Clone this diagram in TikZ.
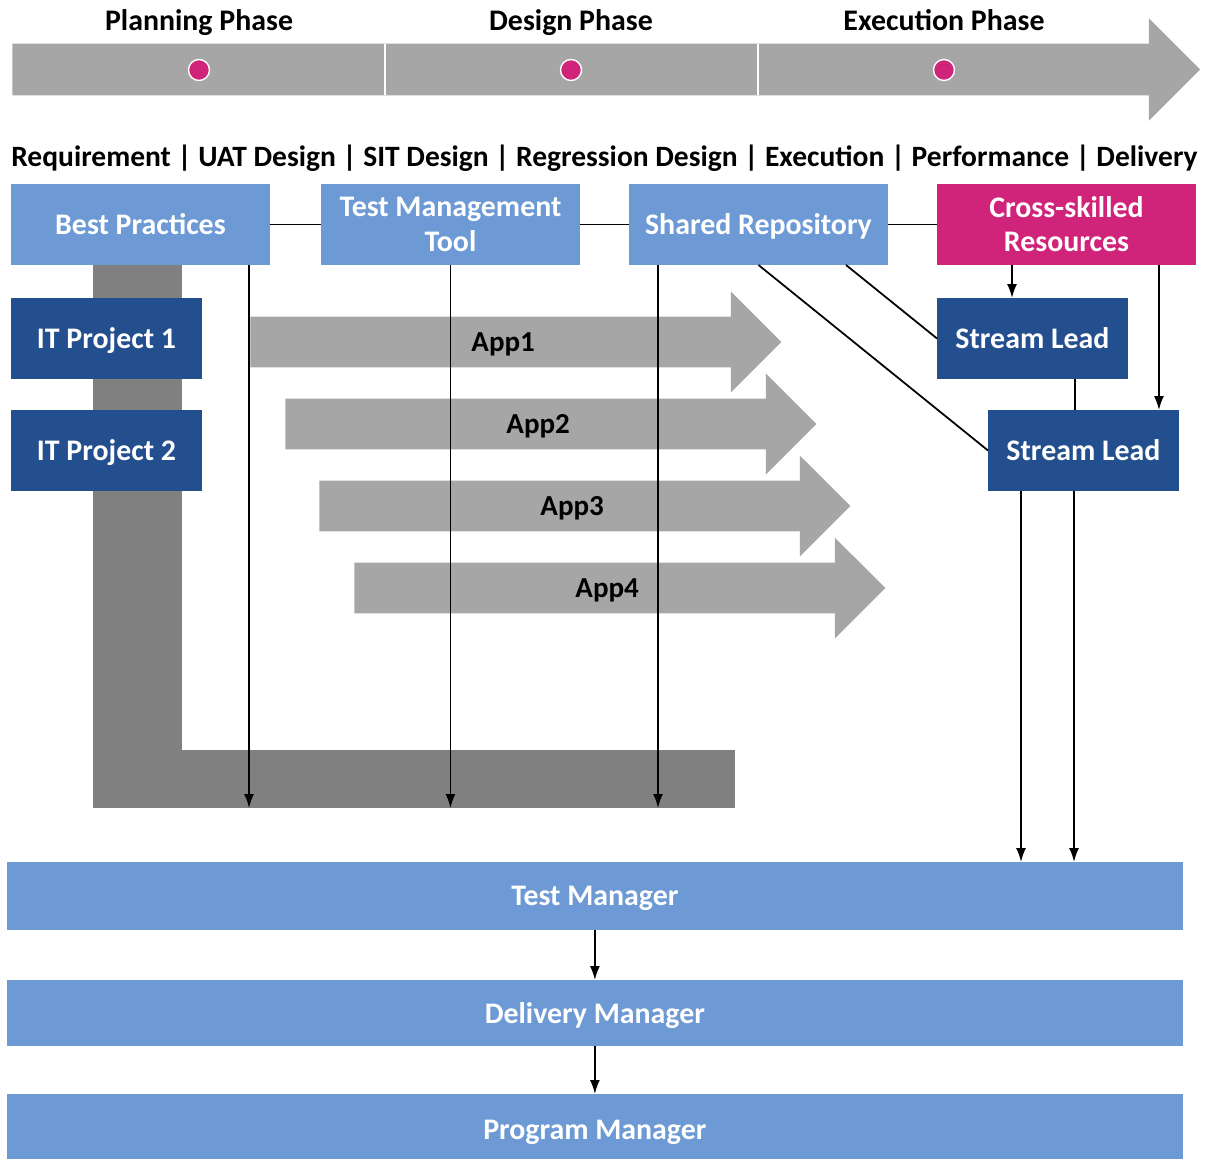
\documentclass[tikz,border=0pt]{standalone}
\usepackage{fontspec}
\setmainfont{Carlito}
\usetikzlibrary{arrows.meta,shapes.arrows,calc}

\definecolor{lightblue}{RGB}{109,153,212}
\definecolor{darkblue}{RGB}{36,79,143}
\definecolor{pink}{RGB}{208,35,122}
\definecolor{arrowgray}{RGB}{166,166,166}
\definecolor{darkgray}{RGB}{128,128,128}

\tikzset{
  oneline/.style={text depth=0pt},
  box/.style={inner sep=0pt, outer sep=0pt, anchor=north west, text=white,
    font=\bfseries\fontsize{17}{19.5}\selectfont, align=center},
  tool/.style={box, fill=lightblue, minimum width=5.18cm, minimum height=1.62cm},
  proj/.style={box, oneline, fill=darkblue, minimum width=3.82cm, minimum height=1.62cm},
  mgr/.style={box, oneline, fill=lightblue, minimum width=23.52cm},
  app/.style={single arrow, fill=arrowgray, inner xsep=0pt, inner ysep=0.5cm, anchor=tail,
    minimum height=10.62cm, single arrow head extend=0.5cm},
  applabel/.style={oneline, font=\bfseries\fontsize{16.5}{19}\selectfont},
  phase/.style={oneline, font=\bfseries\fontsize{17}{19}\selectfont},
  dot/.style={circle, fill=pink, draw=white, line width=0.8pt, minimum size=0.42cm, inner sep=0pt},
  link/.style={line width=1pt},
  arr/.style={link, -{Latex[length=2.8mm,width=2mm]}},
}

\begin{document}
\begin{tikzpicture}[x=0.02cm, y=-0.02cm]
  \useasboundingbox (0,0) rectangle (1210,1159);

  % timeline
  \node[single arrow, fill=arrowgray, inner xsep=0pt, inner ysep=0.51cm, anchor=tail,
    minimum height=23.76cm, single arrow head extend=0.51cm]
    (line) at (12,69.5) {};
  \draw[white, line width=1.5pt] (385,44) -- (385,95);
  \draw[white, line width=1.5pt] (758,44) -- (758,95);
  \node[dot] (d1) at (199,70) {};
  \node[dot] (d2) at (571,70) {};
  \node[dot] (d3) at (944,70) {};
  \node[phase] (plan) at (199,20.5) {Planning Phase};
  \node[phase] (design) at (571,20.5) {Design Phase};
  \node[phase] (exec) at (944,20.5) {Execution Phase};
  \node[phase, font=\bfseries\fontsize{16.8}{19}\selectfont] (steps) at (604.5,155.5)
    {Requirement | UAT Design | SIT Design | Regression Design | Execution | Performance | Delivery};

  % L shaped backbone
  \fill[darkgray] (93,265) rectangle (182,808);
  \node[anchor=north west, fill=darkgray, inner sep=0pt, outer sep=0pt,
    minimum width=12.84cm, minimum height=1.16cm] (base) at (93,750) {};

  % applications
  \node[app, label={[applabel]center:App1}] (app1) at (250,342) {};
  \node[app, label={[applabel]center:App2}] (app2) at (285,424) {};
  \node[app, label={[applabel]center:App3}] (app3) at (319,506) {};
  \node[app, label={[applabel]center:App4}] (app4) at (354,588) {};

  % top row
  \node[tool, oneline] (bp) at (11,184) {Best Practices};
  \node[tool] (tmt) at (321,184) {Test Management\\Tool};
  \node[tool, oneline] (sr) at (629,184) {Shared Repository};
  \node[tool, fill=pink] (csr) at (937,184) {Cross-skilled\\Resources};
  \draw[link] (bp.east) -- (tmt.west);
  \draw[link] (tmt.east) -- (sr.west);
  \draw[link] (sr.east) -- (csr.west);

  % projects and leads
  \node[proj] (it1) at (11,298) {IT Project 1};
  \node[proj] (it2) at (11,410) {IT Project 2};
  \node[proj] (sl1) at (937,298) {Stream Lead};
  \node[proj] (sl2) at (988,410) {Stream Lead};

  % managers
  \node[mgr, minimum height=1.36cm] (tm) at (7,862) {Test Manager};
  \node[mgr, minimum height=1.32cm] (dm) at (7,980) {Delivery Manager};
  \node[mgr, minimum height=1.44cm] (pm) at (7,1094) {Program Manager};

  % connectors
  \coordinate (bpout) at ($(bp.south west)+(238,0)$);
  \coordinate (tmtout) at (tmt.south);
  \coordinate (srout) at ($(sr.south west)+(29,0)$);
  \draw[arr] (bpout) -- (bpout |- base.south);
  \draw[arr] (tmtout) -- (tmtout |- base.south);
  \draw[arr] (srout) -- (srout |- base.south);

  \draw[link] ($(sr.south west)+(217,0)$) -- (sl1.west);
  \draw[link] (sr.south) -- (sl2.west);

  \coordinate (csr1) at ($(csr.south west)+(75,0)$);
  \coordinate (csr2) at ($(csr.south east)+(-37,0)$);
  \draw[arr] (csr1) -- (csr1 |- sl1.north);
  \draw[arr] (csr2) -- (csr2 |- sl2.north);
  \coordinate (sl1out) at ($(sl1.south west)+(138,0)$);
  \draw[link] (sl1out) -- (sl1out |- sl2.north);

  \coordinate (sl2a) at ($(sl2.south west)+(33,0)$);
  \coordinate (sl2b) at ($(sl2.south west)+(86,0)$);
  \draw[arr] (sl2a) -- (sl2a |- tm.north);
  \draw[arr] (sl2b) -- (sl2b |- tm.north);

  \draw[arr] (tm.south) -- (dm.north);
  \draw[arr] (dm.south) -- (pm.north);
\end{tikzpicture}
\end{document}
